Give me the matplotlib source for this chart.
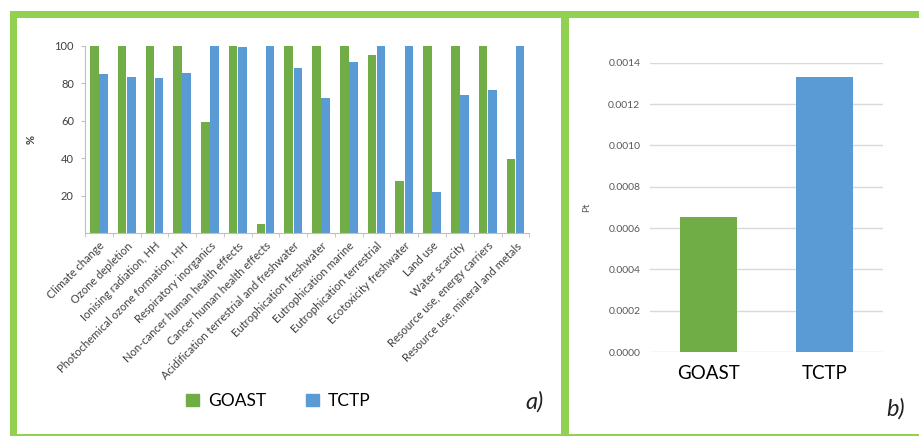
import matplotlib
matplotlib.use("Agg")
import matplotlib.pyplot as plt
from matplotlib.patches import Rectangle, Patch
import numpy as np

plt.rcParams['font.family'] = ['Lato', 'DejaVu Sans']

# Impact categories (characterised results, % of the maximum)
categories = [
    "Climate change", "Ozone depletion", "Ionising radiation, HH",
    "Photochemical ozone formation, HH", "Respiratory inorganics",
    "Non-cancer human health effects", "Cancer human health effects",
    "Acidification terrestrial and freshwater", "Eutrophication freshwater",
    "Eutrophication marine", "Eutrophication terrestrial",
    "Ecotoxicity freshwater", "Land use", "Water scarcity",
    "Resource use, energy carriers", "Resource use, mineral and metals",
]
goast_pct = [100, 100, 100, 100, 59.5, 100, 5.2, 100, 100, 100, 95, 28, 100, 100, 100, 39.7]
tctp_pct = [85, 83.5, 83, 85.4, 100, 99.4, 100, 88.3, 72.3, 91.6, 100, 100, 22.1, 74.0, 76.4, 100]

# Single score results (Pt)
systems = ["GOAST", "TCTP"]
single_score = [0.000652, 0.001333]
pt_ticks = [0.0, 0.0002, 0.0004, 0.0006, 0.0008, 0.0010, 0.0012, 0.0014]
pct_ticks = [20, 40, 60, 80, 100]

GREEN = "#70AD47"
BLUE = "#5B9BD5"
FRAME = "#92D050"
W, H = 919, 436

fig = plt.figure(figsize=(W / 100, H / 100), dpi=100)
fig.patch.set_facecolor("white")


def px_rect(x0, y0, x1, y1, **kw):
    """Rectangle given in pixel coordinates measured from the top-left."""
    fig.add_artist(Rectangle((x0 / W, 1 - y1 / H), (x1 - x0) / W, (y1 - y0) / H,
                             transform=fig.transFigure, lw=0, **kw))


# Panel frames
px_rect(10, 11, W, 18, color=FRAME)
px_rect(10, 11, 17, H, color=FRAME)
px_rect(561, 11, 569, H, color=FRAME)
px_rect(10, 434, W, H, color=FRAME)

# ---- a) grouped bars -----------------------------------------------------
ax = fig.add_axes([85 / W, 1 - 233.3 / H, (529.3 - 85) / W, (233.3 - 46) / H])
x = np.arange(len(categories))
bw = 0.31
ax.bar(x - 0.165, goast_pct, bw, color=GREEN, label="GOAST")
ax.bar(x + 0.165, tctp_pct, bw, color=BLUE, label="TCTP")
ax.set_xlim(-0.5, len(categories) - 0.5)
ax.set_ylim(0, 100)
ax.set_yticks(pct_ticks)
ax.set_xticks(x)
ax.set_xticklabels(categories, rotation=45, ha="right", va="top",
                   rotation_mode="anchor", fontsize=8, color="#404040")
ax.set_xticks(np.arange(-0.5, len(categories)), minor=True)
ax.tick_params(axis="x", which="major", length=0, pad=5)
ax.tick_params(axis="x", which="minor", length=3, color="#bfbfbf")
ax.tick_params(axis="y", length=3, color="#bfbfbf", labelsize=8,
               labelcolor="#404040", pad=5)
for s in ("top", "right"):
    ax.spines[s].set_visible(False)
for s in ("left", "bottom"):
    ax.spines[s].set_color("#bfbfbf")
ax.set_ylabel("%", fontsize=8, fontweight="bold", color="#404040", labelpad=13)

handles = [Patch(color=GREEN, label="GOAST"), Patch(color=BLUE, label="TCTP")]
fig.legend(handles=handles, loc="center", bbox_to_anchor=(278 / W, 1 - 401 / H),
           ncol=2, frameon=False, fontsize=12.5, handlelength=0.75,
           handleheight=0.75, handletextpad=0.5, columnspacing=2.3)
fig.text(535 / W, 1 - 402 / H, "a)", fontsize=17, style="italic",
         ha="center", va="center", color="#222222")

# ---- b) single score -----------------------------------------------------
bx = fig.add_axes([650 / W, 1 - 352 / H, (882.7 - 650) / W, (352 - 62.7) / H])
bx.bar([0, 1], single_score, 0.49, color=[GREEN, BLUE], zorder=3)
bx.set_xlim(-0.5, 1.5)
bx.set_ylim(0, 0.0014)
bx.set_yticks(pt_ticks)
bx.set_yticklabels([f"{t:.4f}" for t in pt_ticks])
bx.yaxis.grid(True, color="#d9d9d9", lw=1, zorder=0)
bx.set_xticks([0, 1])
bx.set_xticklabels(systems, fontsize=13.5, color="black")
bx.tick_params(axis="x", length=0, pad=9)
bx.tick_params(axis="y", length=0, labelsize=7.5, labelcolor="#595959", pad=7)
for s in bx.spines.values():
    s.set_visible(False)
bx.set_ylabel("Pt", fontsize=7, color="#595959", labelpad=12)
fig.text(896 / W, 1 - 409 / H, "b)", fontsize=17, style="italic",
         ha="center", va="center", color="#222222")

fig.savefig("out.png", dpi=100, facecolor="white")
